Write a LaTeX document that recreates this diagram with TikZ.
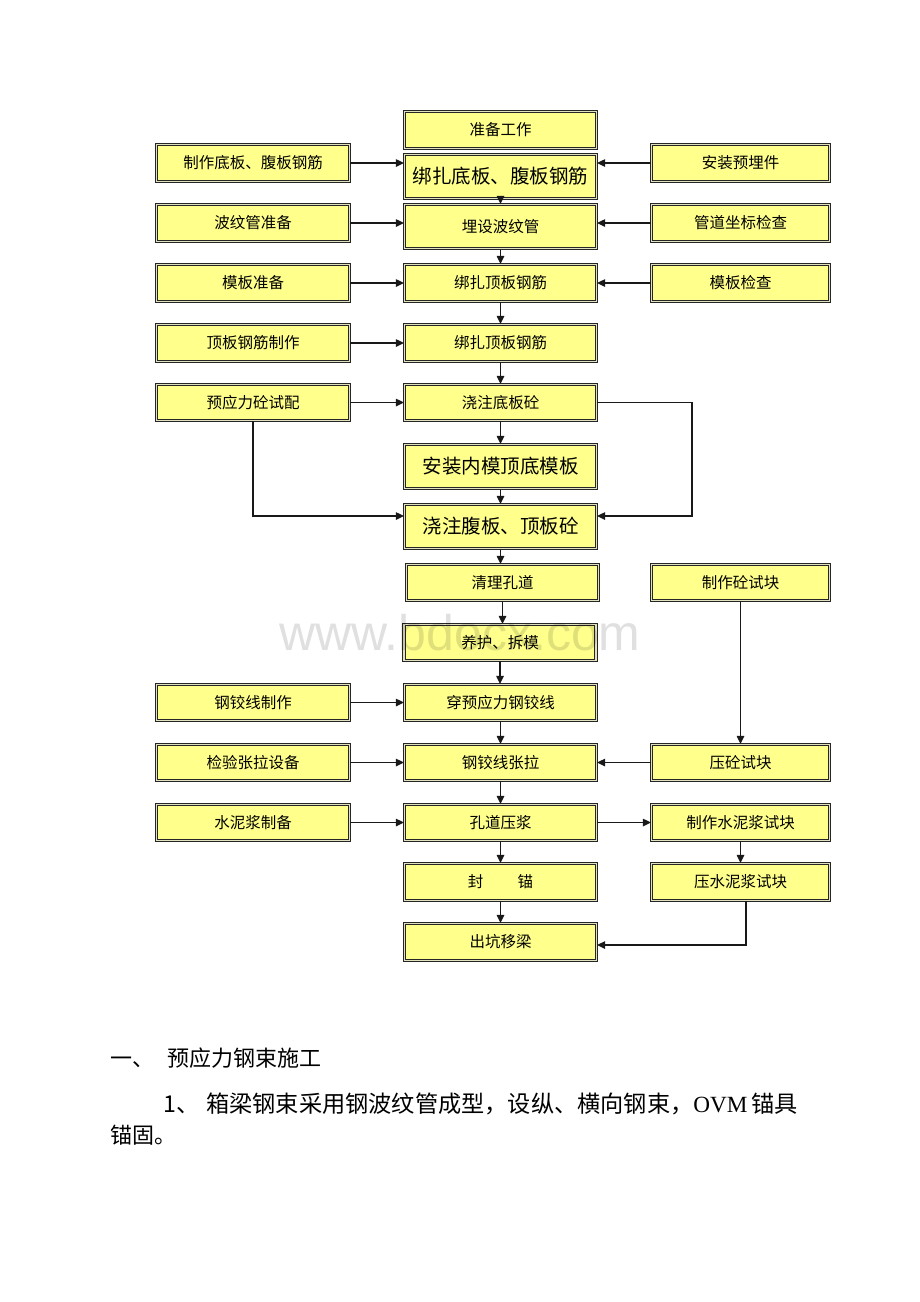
\documentclass[tikz,border=0pt]{standalone}
\usepackage{fontspec}
\setmainfont{Liberation Serif}
\newfontfamily\cjk{Noto Sans CJK SC}
\usetikzlibrary{arrows.meta}
\definecolor{boxfill}{RGB}{255,255,140}
\definecolor{gapcol}{RGB}{225,225,190}
\tikzset{
  box/.style={draw=black!85, line width=1.2pt, double=gapcol, double distance=1.4pt,
    fill=boxfill, inner sep=0pt, font=\cjk\fontsize{15.5}{16}\selectfont},
  cbox/.style={box, minimum width=192pt},
  lbox/.style={box, minimum width=193pt, minimum height=37pt},
  rbox/.style={box, minimum width=178pt, minimum height=37pt},
  big/.style={font=\cjk\fontsize{19.5}{20}\selectfont},
  arr/.style={draw=black!90, line width=1.2pt, -{Triangle[length=8pt,width=7.5pt]}},
  para/.style={anchor=west, inner sep=0pt, font=\cjk\fontsize{22}{24}\selectfont}
}
\begin{document}
\begin{tikzpicture}[x=1pt,y=-1pt]
\useasboundingbox[fill=white] (0,0) rectangle (920,1302);
% centre column
\node[cbox, minimum height=37pt] (c0) at (500.5,130) {准备工作};
\node[cbox, big, minimum height=44pt] (c1) at (500.5,176.5) {绑扎底板、腹板钢筋};
\node[cbox, minimum height=44pt] (c2) at (500.5,226.5) {埋设波纹管};
\node[cbox, minimum height=37pt] (c3) at (500.5,283) {绑扎顶板钢筋};
\node[cbox, minimum height=37pt] (c4) at (500.5,343) {绑扎顶板钢筋};
\node[cbox, minimum height=36pt] (c5) at (500.5,402.5) {浇注底板砼};
\node[cbox, big, minimum height=44pt] (c6) at (500.5,466.5) {安装内模顶底模板};
\node[cbox, big, minimum height=44pt] (c7) at (500.5,526.5) {浇注腹板、顶板砼};
\node[cbox, minimum height=36pt] (c8) at (502.5,582.5) {清理孔道};
\node[cbox, minimum height=36pt] (c9) at (500,642.5) {养护、拆模};
\node[cbox, minimum height=36pt] (c10) at (500.5,702.5) {穿预应力钢铰线};
\node[cbox, minimum height=36pt] (c11) at (500.5,762.5) {钢铰线张拉};
\node[cbox, minimum height=36pt] (c12) at (500.5,822.5) {孔道压浆};
\node[cbox, minimum height=37pt] (c13) at (500.5,882) {封\hspace{2.2em}锚};
\node[cbox, minimum height=37pt] (c14) at (500.5,942) {出坑移梁};
% left column
\node[lbox] (l1) at (253,163) {制作底板、腹板钢筋};
\node[lbox] (l2) at (253,223) {波纹管准备};
\node[lbox] (l3) at (253,283) {模板准备};
\node[lbox] (l4) at (253,343) {顶板钢筋制作};
\node[lbox, minimum height=36pt] (l5) at (253,402.5) {预应力砼试配};
\node[lbox, minimum height=36pt] (l6) at (253,702.5) {钢铰线制作};
\node[lbox, minimum height=36pt] (l7) at (253,762.5) {检验张拉设备};
\node[lbox, minimum height=36pt] (l8) at (253,822.5) {水泥浆制备};
% right column
\node[rbox] (r1) at (740.5,163) {安装预埋件};
\node[rbox] (r2) at (740.5,223) {管道坐标检查};
\node[rbox] (r3) at (740.5,283) {模板检查};
\node[rbox, minimum height=36pt] (r4) at (740.5,582.5) {制作砼试块};
\node[rbox, minimum height=36pt] (r5) at (740.5,762.5) {压砼试块};
\node[rbox, minimum height=36pt] (r6) at (740.5,822.5) {制作水泥浆试块};
\node[rbox, minimum height=37pt] (r7) at (740.5,882) {压水泥浆试块};
% centre vertical arrows
\foreach \a/\b in {c1/c2,c2/c3,c3/c4,c4/c5,c5/c6,c6/c7,c7/c8,c8/c9,c9/c10,c10/c11,c11/c12,c12/c13,c13/c14}
  \draw[arr] (\a.south) -- (\a.south |- \b.north);
% left arrows
\foreach \a/\b in {l1/c1,l2/c2,l3/c3,l4/c4,l5/c5,l6/c10,l7/c11,l8/c12}
  \draw[arr] (\a.east) -- (\a.east -| \b.west);
% right arrows
\foreach \a/\b in {r1/c1,r2/c2,r3/c3,r5/c11}
  \draw[arr] (\a.west) -- (\a.west -| \b.east);
% loops
\coordinate (k1) at (253,516);
\draw[arr] (l5.south) -- (k1) -- (k1 -| c7.west);
\coordinate (k2) at (692,516);
\draw[arr] (c5.east) -- (c5.east -| k2) -- (k2) -- (k2 -| c7.east);
\draw[arr] (r4.south) -- (r5.north);
\draw[arr] (c12.east) -- (c12.east -| r6.west);
\draw[arr] (r6.south) -- (r7.north);
\coordinate (k3) at (746,945);
\draw[arr] (r7.south -| k3) -- (k3) -- (k3 -| c14.east);
% watermark
\node[text=black, opacity=0.12, font=\fontspec{Liberation Sans}\fontsize{50}{50}\selectfont, inner sep=0pt] (wm) at (460,633) {www.bdocx.com};
% paragraph text
\node[para] (t1) at (110,1058) {一、\hspace{0.6em}预应力钢束施工};
\node[para, font=\cjk\fontsize{23.2}{24}\selectfont] (t2) at (163,1104) {1、\hspace{0.3em}箱梁钢束采用钢波纹管成型，设纵、横向钢束，{\rmfamily OVM}\,锚具};
\node[para] (t3) at (110,1135) {锚固。};
\end{tikzpicture}
\end{document}
